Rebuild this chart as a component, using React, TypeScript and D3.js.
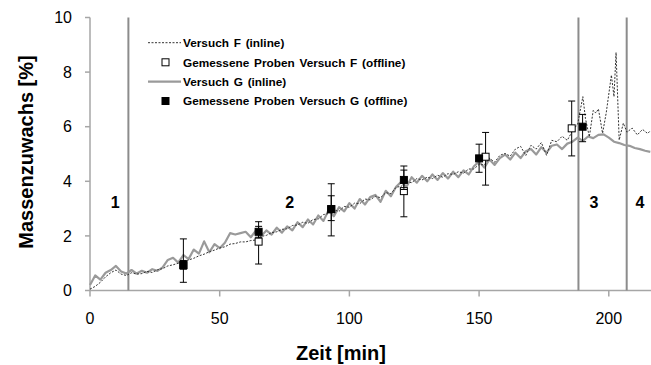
import * as d3 from 'd3';

// Versuch G (inline) – [Zeit, Massenzuwachs]
const versuchG: [number, number][] = [
  [0, 0.2], [2, 0.55], [4, 0.4], [6, 0.65], [8, 0.75], [10, 0.9], [12, 0.7], [14, 0.62], [16, 0.75], [18, 0.62],
  [20, 0.72], [22, 0.65], [24, 0.78], [26, 0.72], [28, 0.85], [30, 1.12], [32, 1.2], [34, 1.02], [36, 1.3], [38, 1.15],
  [40, 1.5], [42, 1.35], [44, 1.8], [46, 1.4], [48, 1.7], [50, 1.55], [52, 1.75], [54, 2.1], [56, 2.05], [58, 2.1],
  [60, 2.15], [62, 1.95], [64, 2.2], [66, 2.0], [68, 2.2], [70, 2.05], [72, 2.3], [74, 2.12], [76, 2.35], [78, 2.2],
  [80, 2.5], [82, 2.32], [84, 2.6], [86, 2.42], [88, 2.75], [90, 2.55], [92, 2.95], [94, 2.72], [96, 3.05], [98, 2.9],
  [100, 3.2], [102, 3.0], [104, 3.35], [106, 3.15], [108, 3.42], [110, 3.5], [112, 3.25], [114, 3.65], [116, 3.45], [118, 3.8],
  [120, 3.98], [122, 3.8], [124, 4.15], [126, 3.95], [128, 4.2], [130, 4.0], [132, 4.25], [134, 4.05], [136, 4.3], [138, 4.1],
  [140, 4.35], [142, 4.15], [144, 4.4], [146, 4.25], [148, 4.55], [150, 4.72], [152, 4.5], [154, 4.8], [156, 4.6], [158, 4.85],
  [160, 4.98], [162, 4.8], [164, 5.05], [166, 4.85], [168, 5.1], [170, 5.18], [172, 4.98], [174, 5.25], [176, 5.05], [178, 5.3],
  [180, 5.35], [182, 5.18], [184, 5.38], [186, 5.45], [188, 5.6], [190, 5.48], [192, 5.64], [194, 5.58], [196, 5.7], [198, 5.72],
  [200, 5.6], [202, 5.45], [204, 5.4], [206, 5.33], [208, 5.3], [210, 5.22], [212, 5.18], [214, 5.12], [216, 5.08],
];

// Versuch F (inline)
const versuchF: [number, number][] = [
  [0, 0.05], [2, 0.15], [4, 0.3], [6, 0.5], [8, 0.65], [10, 0.75], [12, 0.6], [14, 0.55], [16, 0.65], [18, 0.6],
  [20, 0.62], [22, 0.7], [24, 0.66], [26, 0.76], [28, 0.8], [30, 0.9], [32, 0.94], [34, 1.0], [36, 1.04], [38, 1.12],
  [40, 1.18], [42, 1.27], [44, 1.33], [46, 1.42], [48, 1.48], [50, 1.56], [52, 1.6], [54, 1.7], [56, 1.72], [58, 1.78],
  [60, 1.78], [62, 1.83], [64, 1.85], [66, 1.98], [68, 2.02], [70, 2.12], [72, 2.15], [74, 2.24], [76, 2.26], [78, 2.38],
  [80, 2.4], [82, 2.5], [84, 2.46], [86, 2.6], [88, 2.62], [90, 2.78], [92, 2.82], [94, 2.95], [96, 2.9], [98, 3.08],
  [100, 3.05], [102, 3.2], [104, 3.18], [106, 3.35], [108, 3.32], [110, 3.45], [112, 3.4], [114, 3.58], [116, 3.55], [118, 3.78],
  [120, 3.82], [122, 3.98], [124, 3.95], [126, 4.1], [128, 4.05], [130, 4.15], [132, 4.1], [134, 4.22], [136, 4.15], [138, 4.28],
  [140, 4.25], [142, 4.35], [144, 4.3], [146, 4.45], [148, 4.45], [150, 4.62], [152, 4.6], [154, 4.85], [156, 4.7], [158, 4.95],
  [160, 5.02], [162, 4.92], [164, 5.18], [166, 5.28], [168, 4.95], [170, 5.32], [172, 5.18], [174, 5.42], [176, 4.95], [178, 5.5],
  [180, 5.45], [182, 5.65], [184, 5.5], [186, 5.85], [188, 6.1], [190, 7.1], [191, 6.3], [192.5, 5.63], [194, 6.6], [195, 6.5],
  [196, 6.65], [197.6, 5.76], [199, 6.5], [201, 7.89], [202, 7.1], [202.8, 8.72], [204, 5.51], [205.6, 6.13], [207, 5.8], [209, 5.95],
  [211, 5.7], [213, 5.9], [215, 5.75], [216, 5.85],
];

// Gemessene Proben (offline): Zeit, Wert, unterer / oberer Fehlerbalken
const probenF_zeit = [36, 65, 93, 121, 152.5, 185.7];
const probenF_wert = [0.93, 1.79, 2.98, 3.64, 4.9, 5.94];
const probenF_min = [0.3, 0.97, 2.0, 2.7, 3.86, 4.93];
const probenF_max = [1.89, 2.52, 3.91, 4.56, 5.79, 6.94];

const probenG_zeit = [36, 65, 93, 121, 150, 189.9];
const probenG_wert = [0.93, 2.15, 2.98, 4.05, 4.84, 6.0];
const probenG_min = [0.78, 1.95, 2.56, 3.7, 4.33, 5.45];
const probenG_max = [1.1, 2.35, 3.47, 4.41, 5.36, 6.45];

const phaseGrenzen = [14.8, 188.3, 206.9];
const phaseLabels = ['1', '2', '3', '4'];
const phaseLabelX = [9.7, 77, 194.3, 212];

const xTicks = [0, 50, 100, 150, 200];
const yTicks = [0, 2, 4, 6, 8, 10];

const legendLabels = [
  'Versuch F (inline)',
  'Gemessene Proben Versuch F (offline)',
  'Versuch G (inline)',
  'Gemessene Proben Versuch G (offline)',
];

const font = "Arial, 'Liberation Sans', sans-serif";

const App = () => {
  const width = 651;
  const height = 365;
  const x = d3.scaleLinear([0, 216], [90, 650.3]);
  const y = d3.scaleLinear([0, 10], [290.5, 17.5]);

  const line = d3
    .line<[number, number]>()
    .x((d) => x(d[0]))
    .y((d) => y(d[1]));

  const axisColor = '#a6a6a6';
  const sq = 7;

  const errorBars = (zeit: number[], lo: number[], hi: number[]) =>
    zeit.map((t, i) => (
      <g key={i} stroke="#000" strokeWidth={1}>
        <line x1={x(t)} x2={x(t)} y1={y(lo[i])} y2={y(hi[i])} />
        <line x1={x(t) - 3.5} x2={x(t) + 3.5} y1={y(lo[i])} y2={y(lo[i])} />
        <line x1={x(t) - 3.5} x2={x(t) + 3.5} y1={y(hi[i])} y2={y(hi[i])} />
      </g>
    ));

  const legendY = [42.7, 62.3, 81.7, 101];

  return (
    <svg width={width} height={height} style={{ position: 'absolute', left: 0, top: 0, background: '#fff' }}>
      {/* axes */}
      <line x1={x(0)} x2={x(0)} y1={y(10)} y2={y(0)} stroke={axisColor} strokeWidth={1.5} />
      <line x1={x(0)} x2={width} y1={y(0)} y2={y(0)} stroke={axisColor} strokeWidth={1.5} />
      {yTicks.map((t) => (
        <g key={'y' + t}>
          <line x1={x(0) - 5} x2={x(0)} y1={y(t)} y2={y(t)} stroke={axisColor} strokeWidth={1.5} />
          <text x={72} y={y(t)} dy="0.36em" textAnchor="end" fontFamily={font} fontSize={16} fill="#000">
            {t}
          </text>
        </g>
      ))}
      {xTicks.map((t) => (
        <g key={'x' + t}>
          <line x1={x(t)} x2={x(t)} y1={y(0)} y2={y(0) + 6} stroke={axisColor} strokeWidth={1.5} />
          <text x={x(t)} y={324} textAnchor="middle" fontFamily={font} fontSize={16} fill="#000">
            {t}
          </text>
        </g>
      ))}

      {/* phase boundaries */}
      {phaseGrenzen.map((p) => (
        <line key={'p' + p} x1={x(p)} x2={x(p)} y1={y(10)} y2={y(0)} stroke="#8c8c8c" strokeWidth={2} />
      ))}
      {phaseLabels.map((l, i) => (
        <text key={'l' + l} x={x(phaseLabelX[i])} y={208} textAnchor="middle" fontFamily={font} fontWeight="bold" fontSize={16}>
          {l}
        </text>
      ))}

      {/* series */}
      <path d={line(versuchG) ?? ''} fill="none" stroke="#9a9a9a" strokeWidth={2.2} strokeLinejoin="round" />
      <path d={line(versuchF) ?? ''} fill="none" stroke="#333" strokeWidth={1} strokeDasharray="2,1.5" />

      {errorBars(probenF_zeit, probenF_min, probenF_max)}
      {probenF_zeit.map((t, i) => (
        <rect key={'f' + i} x={x(t) - sq / 2} y={y(probenF_wert[i]) - sq / 2} width={sq} height={sq} fill="#fff" stroke="#000" strokeWidth={1} />
      ))}
      {errorBars(probenG_zeit, probenG_min, probenG_max)}
      {probenG_zeit.map((t, i) => (
        <rect key={'g' + i} x={x(t) - sq / 2} y={y(probenG_wert[i]) - sq / 2} width={sq} height={sq} fill="#000" stroke="#000" strokeWidth={1} />
      ))}

      {/* legend */}
      <line x1={148} x2={181} y1={legendY[0]} y2={legendY[0]} stroke="#333" strokeWidth={1} strokeDasharray="2,1.5" />
      <rect x={162} y={legendY[1] - 3.5} width={7} height={7} fill="#fff" stroke="#000" />
      <line x1={148} x2={181} y1={legendY[2]} y2={legendY[2]} stroke="#9a9a9a" strokeWidth={2.2} />
      <rect x={162} y={legendY[3] - 3.5} width={7} height={7} fill="#000" stroke="#000" />
      {legendLabels.map((l, i) => (
        <text key={l} x={183} y={legendY[i]} dy="0.36em" fontFamily={font} fontWeight="bold" fontSize={11.8} style={{ wordSpacing: '1.5px' }}>
          {l}
        </text>
      ))}

      {/* axis titles */}
      <text x={341} y={360} textAnchor="middle" fontFamily={font} fontWeight="bold" fontSize={20}>
        Zeit [min]
      </text>
      <text transform="translate(33,152) rotate(-90)" textAnchor="middle" fontFamily={font} fontWeight="bold" fontSize={20}>
        Massenzuwachs [%]
      </text>
    </svg>
  );
};

export default App;
